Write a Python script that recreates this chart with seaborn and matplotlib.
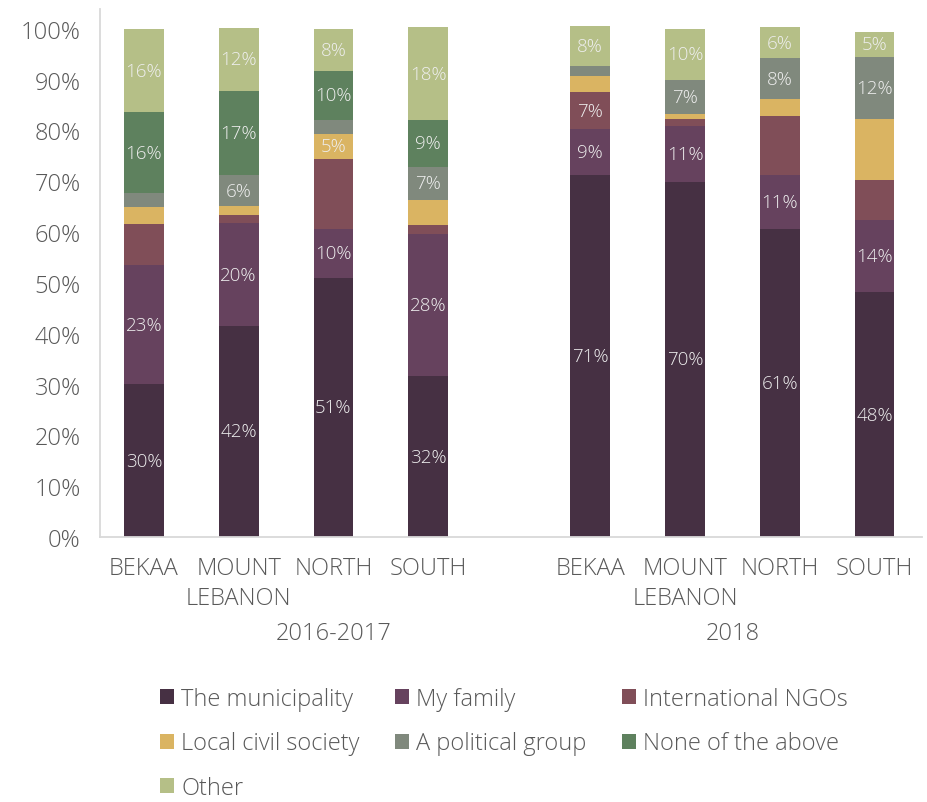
import numpy as np
import pandas as pd
import matplotlib
matplotlib.use("Agg")
import matplotlib.pyplot as plt
from matplotlib.patches import Patch
from matplotlib.transforms import blended_transform_factory
import seaborn as sns

# Regions per survey round
regions = ["BEKAA", "MOUNT\nLEBANON", "NORTH", "SOUTH"]
periods = ["2016-2017", "2018"]

# Share of respondents (%) per answer, 4 regions of 2016-2017 then 4 of 2018
municipality = [30.1, 41.6, 51.0, 31.6, 71.3, 69.9, 60.6, 48.2]
family       = [23.4, 20.1, 9.6, 28.0, 8.9, 11.0, 10.6, 14.2]
intl_ngos    = [8.1, 1.6, 13.8, 1.8, 7.3, 1.4, 11.6, 7.9]
local_cs     = [3.3, 1.8, 4.9, 4.9, 3.3, 1.0, 3.3, 12.0]
political    = [2.8, 6.1, 2.8, 6.6, 1.8, 6.7, 8.1, 12.2]
none_above   = [15.9, 16.6, 9.6, 9.1, 0.0, 0.0, 0.0, 0.0]
other        = [16.3, 12.4, 8.3, 18.3, 7.9, 10.0, 6.1, 4.9]

series_names = ["The municipality", "My family", "International NGOs",
                "Local civil society", "A political group", "None of the above", "Other"]
series_vals = [municipality, family, intl_ngos, local_cs, political, none_above, other]
colors = ["#463043", "#66425e", "#804e58", "#dab462", "#80897d", "#5e815e", "#b5bf87"]

# Which segments carry a value label
labelled = {
    "The municipality":    [1, 1, 1, 1, 1, 1, 1, 1],
    "My family":           [1, 1, 1, 1, 1, 1, 1, 1],
    "International NGOs":  [0, 0, 0, 0, 1, 0, 0, 0],
    "Local civil society": [0, 0, 1, 0, 0, 0, 0, 0],
    "A political group":   [0, 1, 0, 1, 0, 1, 1, 1],
    "None of the above":   [1, 1, 1, 1, 0, 0, 0, 0],
    "Other":               [1, 1, 1, 1, 1, 1, 1, 1],
}

sns.set_theme(style="white")
plt.rcParams["font.family"] = ["Open Sans", "DejaVu Sans"]
plt.rcParams["font.weight"] = "light"
TXT = "#595959"

# bar positions: two groups of four, with a wider gap between rounds
group_gap = 0.71
xpos = np.array([0, 1, 2, 3, 3 + 1 + group_gap, 4 + 1 + group_gap,
                 5 + 1 + group_gap, 6 + 1 + group_gap], dtype=float)

fig = plt.figure(figsize=(9.28, 8.03), dpi=100)
ax = fig.add_axes([0.1078, 0.330, 0.8857, 0.6575])

vals = np.array(series_vals) / 100.0
cum = np.cumsum(vals, axis=0)

# stacked bars: draw cumulative totals from the top layer down
for i in range(len(series_names) - 1, -1, -1):
    df = pd.DataFrame({"x": xpos, "y": cum[i]})
    sns.barplot(data=df, x="x", y="y", native_scale=True, orient="x",
                color=colors[i], saturation=1, width=0.42, errorbar=None,
                linewidth=0, edgecolor="none", ax=ax)

# value labels centred in each segment
for i, name in enumerate(series_names):
    bottoms = cum[i] - vals[i]
    for j in range(len(xpos)):
        if labelled[name][j] and vals[i][j] > 0:
            ax.text(xpos[j], bottoms[j] + vals[i][j] / 2,
                    f"{round(series_vals[i][j]):d}%",
                    ha="center", va="center", color="#eeeeee", fontsize=13.5)

ax.set_xlim(-0.463, xpos[-1] + 0.5)
ax.set_ylim(0, 1.039)
ax.set_yticks(np.linspace(0, 1, 11))
ax.set_yticklabels([f"{int(round(t*100))}%" for t in np.linspace(0, 1, 11)])
ax.set_xticks(xpos)
ax.set_xticklabels(regions * 2, linespacing=1.3)
ax.tick_params(axis="y", length=0, pad=14, labelsize=17, labelcolor=TXT)
ax.tick_params(axis="x", length=0, pad=14, labelsize=17, labelcolor=TXT)
ax.set_xlabel("")
ax.set_ylabel("")

for s in ["top", "right"]:
    ax.spines[s].set_visible(False)
for s in ["left", "bottom"]:
    ax.spines[s].set_color("#d9d9d9")
    ax.spines[s].set_linewidth(1.3)

# round labels under the region labels
trans = blended_transform_factory(ax.transData, ax.transAxes)
ax.text(2.0, -0.182, periods[0], transform=trans, ha="center", va="center",
        fontsize=17, color=TXT)
ax.text(xpos[4:].mean(), -0.182, periods[1], transform=trans, ha="center",
        va="center", fontsize=17, color=TXT)

# legend laid out row by row in three columns
handles = [Patch(facecolor=c, edgecolor="none") for c in colors]
order = [0, 3, 6, 1, 4, 2, 5]
leg = fig.legend([handles[k] for k in order], [series_names[k] for k in order],
                 ncol=3, loc="center", bbox_to_anchor=(0.543, 0.073),
                 frameon=False, fontsize=17, handlelength=0.6, handleheight=0.6,
                 handletextpad=0.3, columnspacing=1.5, labelspacing=0.88,
                 borderpad=0.2)
for t in leg.get_texts():
    t.set_color(TXT)

fig.savefig("out.png", dpi=100)
